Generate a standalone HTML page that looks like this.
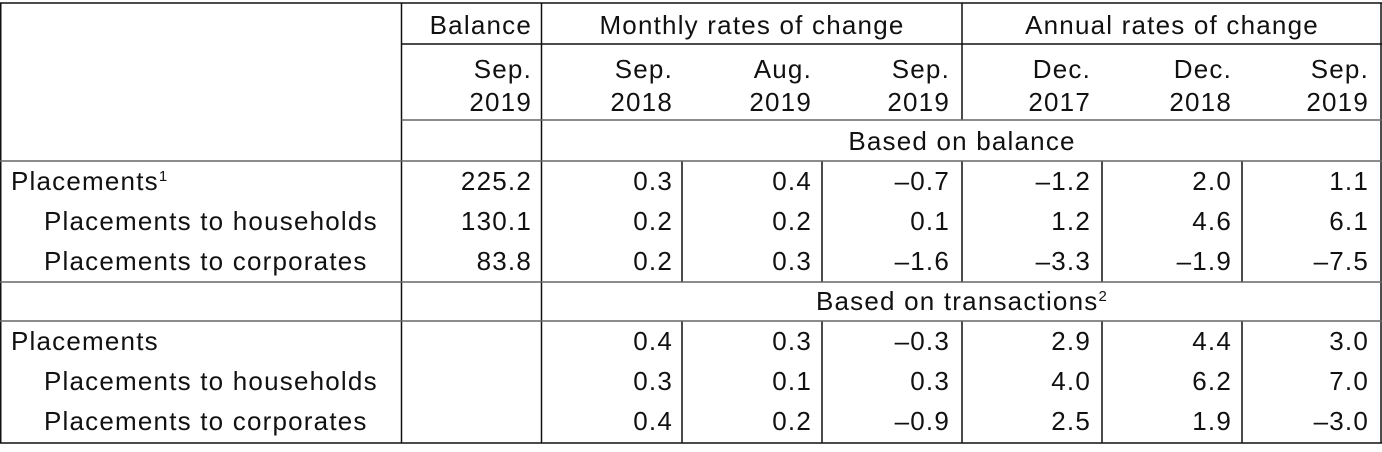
<!DOCTYPE html>
<html><head><meta charset="utf-8"><style>
html,body{margin:0;padding:0;background:#fff;}
svg{display:block;}
text{font-family:"Liberation Sans",Arial,sans-serif;font-size:26px;fill:#111;letter-spacing:1.2px;}
.r{text-anchor:end;}
.c{text-anchor:middle;}
</style></head><body>
<svg width="1382" height="452" viewBox="0 0 1382 452">
<g stroke="#111" stroke-width="1.5" fill="none">
<line x1="0" y1="3" x2="1382" y2="3"/>
<line x1="0.75" y1="3" x2="0.75" y2="443"/>
<line x1="1381" y1="3" x2="1381" y2="443"/>
<line x1="0" y1="443" x2="1382" y2="443"/>
<line x1="401.5" y1="3" x2="401.5" y2="443"/>
<line x1="541.5" y1="3" x2="541.5" y2="443"/>
<line x1="962" y1="3" x2="962" y2="120"/>
<line x1="401.5" y1="44" x2="1382" y2="44"/>
<g>
<line x1="682" y1="161" x2="682" y2="282"/><line x1="822" y1="161" x2="822" y2="282"/><line x1="962" y1="161" x2="962" y2="282"/><line x1="1102" y1="161" x2="1102" y2="282"/><line x1="1242" y1="161" x2="1242" y2="282"/>
<line x1="682" y1="321" x2="682" y2="443"/><line x1="822" y1="321" x2="822" y2="443"/><line x1="962" y1="321" x2="962" y2="443"/><line x1="1102" y1="321" x2="1102" y2="443"/><line x1="1242" y1="321" x2="1242" y2="443"/>
</g>
</g>
<g stroke="#666" stroke-width="1.5">
<line x1="401.5" y1="120" x2="1382" y2="120"/>
<line x1="0" y1="161" x2="1382" y2="161"/>
<line x1="0" y1="282" x2="1382" y2="282"/>
<line x1="0" y1="321" x2="1382" y2="321"/>
</g>
<text class="r" x="532" y="34">Balance</text>
<text class="c" x="752" y="34">Monthly rates of change</text>
<text class="c" x="1172" y="34">Annual rates of change</text>
<g>
<text class="r" x="532" y="78">Sep.</text><text class="r" x="532" y="111">2019</text>
<text class="r" x="673" y="78">Sep.</text><text class="r" x="673" y="111">2018</text>
<text class="r" x="812" y="78">Aug.</text><text class="r" x="812" y="111">2019</text>
<text class="r" x="950" y="78">Sep.</text><text class="r" x="950" y="111">2019</text>
<text class="r" x="1091" y="78">Dec.</text><text class="r" x="1091" y="111">2017</text>
<text class="r" x="1232" y="78">Dec.</text><text class="r" x="1232" y="111">2018</text>
<text class="r" x="1369" y="78">Sep.</text><text class="r" x="1369" y="111">2019</text>
</g>
<text class="c" x="962" y="150">Based on balance</text>
<text class="c" x="962" y="310">Based on transactions<tspan font-size="15" dy="-9">2</tspan></text>

<text x="11" y="190">Placements<tspan font-size="15" dy="-9">1</tspan></text>
<text x="44" y="230">Placements to households</text>
<text x="44" y="270">Placements to corporates</text>
<text x="11" y="350">Placements</text>
<text x="44" y="390">Placements to households</text>
<text x="44" y="430">Placements to corporates</text>

<g>
<text class="r" x="532" y="190">225.2</text><text class="r" x="673" y="190">0.3</text><text class="r" x="812" y="190">0.4</text><text class="r" x="950" y="190">–0.7</text><text class="r" x="1091" y="190">–1.2</text><text class="r" x="1232" y="190">2.0</text><text class="r" x="1369" y="190">1.1</text>
<text class="r" x="532" y="230">130.1</text><text class="r" x="673" y="230">0.2</text><text class="r" x="812" y="230">0.2</text><text class="r" x="950" y="230">0.1</text><text class="r" x="1091" y="230">1.2</text><text class="r" x="1232" y="230">4.6</text><text class="r" x="1369" y="230">6.1</text>
<text class="r" x="532" y="270">83.8</text><text class="r" x="673" y="270">0.2</text><text class="r" x="812" y="270">0.3</text><text class="r" x="950" y="270">–1.6</text><text class="r" x="1091" y="270">–3.3</text><text class="r" x="1232" y="270">–1.9</text><text class="r" x="1369" y="270">–7.5</text>
<text class="r" x="673" y="350">0.4</text><text class="r" x="812" y="350">0.3</text><text class="r" x="950" y="350">–0.3</text><text class="r" x="1091" y="350">2.9</text><text class="r" x="1232" y="350">4.4</text><text class="r" x="1369" y="350">3.0</text>
<text class="r" x="673" y="390">0.3</text><text class="r" x="812" y="390">0.1</text><text class="r" x="950" y="390">0.3</text><text class="r" x="1091" y="390">4.0</text><text class="r" x="1232" y="390">6.2</text><text class="r" x="1369" y="390">7.0</text>
<text class="r" x="673" y="430">0.4</text><text class="r" x="812" y="430">0.2</text><text class="r" x="950" y="430">–0.9</text><text class="r" x="1091" y="430">2.5</text><text class="r" x="1232" y="430">1.9</text><text class="r" x="1369" y="430">–3.0</text>
</g>
</svg>
</body></html>
